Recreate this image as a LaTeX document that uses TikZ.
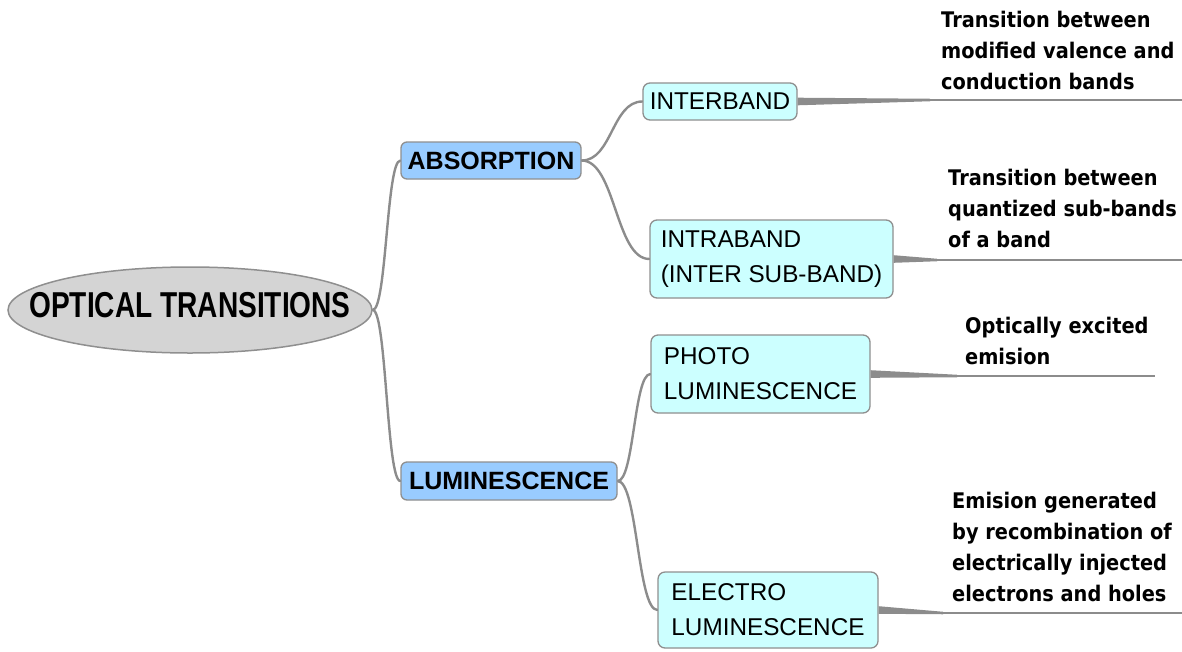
\documentclass[tikz,border=0pt]{standalone}
\usepackage{fontspec}
\setmainfont{Liberation Sans}
\newfontfamily\rootfont[FakeStretch=0.78]{Liberation Sans}
\newfontfamily\descfont[FakeStretch=0.9]{DejaVu Sans}
\usetikzlibrary{shapes.geometric,calc,backgrounds}

\definecolor{linkgray}{HTML}{8C8C8C}
\definecolor{edgegray}{HTML}{8F8F8F}
\definecolor{rootfill}{HTML}{D4D4D4}
\definecolor{topicfill}{HTML}{99CCFF}
\definecolor{subfill}{HTML}{CCFFFF}

\tikzset{
  rootnode/.style={ellipse, draw=edgegray, line width=1.5pt, fill=rootfill,
    minimum width=364pt, minimum height=86pt, inner sep=0pt},
  roottext/.style={inner sep=0pt, text depth=10pt,
    font=\rootfont\bfseries\fontsize{36}{40}\selectfont},
  topic/.style={rectangle, rounded corners=6pt, draw=edgegray, line width=1.3pt,
    fill=topicfill, inner sep=0pt, font=\bfseries\fontsize{25}{30}\selectfont},
  subtopic/.style={rectangle, rounded corners=7pt, draw=edgegray, line width=1.3pt,
    fill=subfill, inner xsep=0pt, inner ysep=2pt, align=left,
    font=\fontsize{24.3}{35}\selectfont},
  desc/.style={anchor=north west, inner sep=0pt, align=left,
    font=\descfont\bfseries\fontsize{21.5}{31}\selectfont},
  branch/.style={draw=linkgray, line width=2.4pt, line cap=round},
  wedge/.style={fill=linkgray},
  rulerline/.style={draw=linkgray, line width=2.5pt}
}

% S-shaped connector between two anchors
\newcommand\sbranch[2]{%
  \draw[branch] let \p1=(#1), \p2=(#2) in
    (\p1) .. controls ({(\x1+\x2)/2},\y1) and ({(\x1+\x2)/2},\y2) .. (\p2);}
% tapered stub from a box to the start of its rule line
\newcommand\stub[2]{%
  \fill[wedge] ($(#1)+(0,-3.8)$) -- ($(#2)+(0,-1.25)$) -- ($(#2)+(0,1.25)$)
    -- ($(#1)+(0,3.8)$) -- cycle;}

\begin{document}
\begin{tikzpicture}[x=1pt,y=-1pt]
\useasboundingbox (0,0) rectangle (1182,651);

% main topic and branches
\node[rootnode, label={[roottext]center:OPTICAL TRANSITIONS}] (root) at (190,310) {};
\node[topic, minimum width=180pt, minimum height=37pt] (abs) at (491,160.5) {ABSORPTION};
\node[topic, minimum width=216pt, minimum height=38pt] (lum) at (509,481) {LUMINESCENCE};

\node[subtopic, minimum width=154pt, minimum height=37pt] (inter) at (720,101.5) {INTERBAND};
\node[subtopic, minimum width=243pt, minimum height=78pt] (intra) at (771.5,259) {INTRABAND\\(INTER SUB-BAND)};
\node[subtopic, minimum width=219pt, minimum height=78pt] (photo) at (760.5,374) {PHOTO\\LUMINESCENCE};
\node[subtopic, minimum width=220pt, minimum height=76pt] (electro) at (768,610) {ELECTRO\\LUMINESCENCE};

% descriptions
\node[desc] (d1) at (941,10.7) {Transition between\\modified valence and\\conduction bands};
\node[desc] (d2) at (948,168.7) {Transition between\\quantized sub-bands\\of a band};
\node[desc] (d3) at (965,316.7) {Optically excited\\emision};
\node[desc] (d4) at (952,491.7) {Emision generated\\by recombination of\\electrically injected\\electrons and holes};

% rule lines under the descriptions
\coordinate (u1s) at (930,100);  \coordinate (u1e) at (1182,100);
\coordinate (u2s) at (937,260);  \coordinate (u2e) at (1182,260);
\coordinate (u3s) at (957,376);  \coordinate (u3e) at (1155,376);
\coordinate (u4s) at (943,613);  \coordinate (u4e) at (1182,613);

\begin{pgfonlayer}{background}
  \sbranch{root.east}{abs.west}
  \sbranch{root.east}{lum.west}
  \sbranch{abs.east}{inter.west}
  \sbranch{abs.east}{intra.west}
  \sbranch{lum.east}{photo.west}
  \sbranch{lum.east}{electro.west}
  \stub{inter.east}{u1s}
  \stub{intra.east}{u2s}
  \stub{photo.east}{u3s}
  \stub{electro.east}{u4s}
  \draw[rulerline] (u1s) -- (u1e);
  \draw[rulerline] (u2s) -- (u2e);
  \draw[rulerline] (u3s) -- (u3e);
  \draw[rulerline] (u4s) -- (u4e);
\end{pgfonlayer}
\end{tikzpicture}
\end{document}
